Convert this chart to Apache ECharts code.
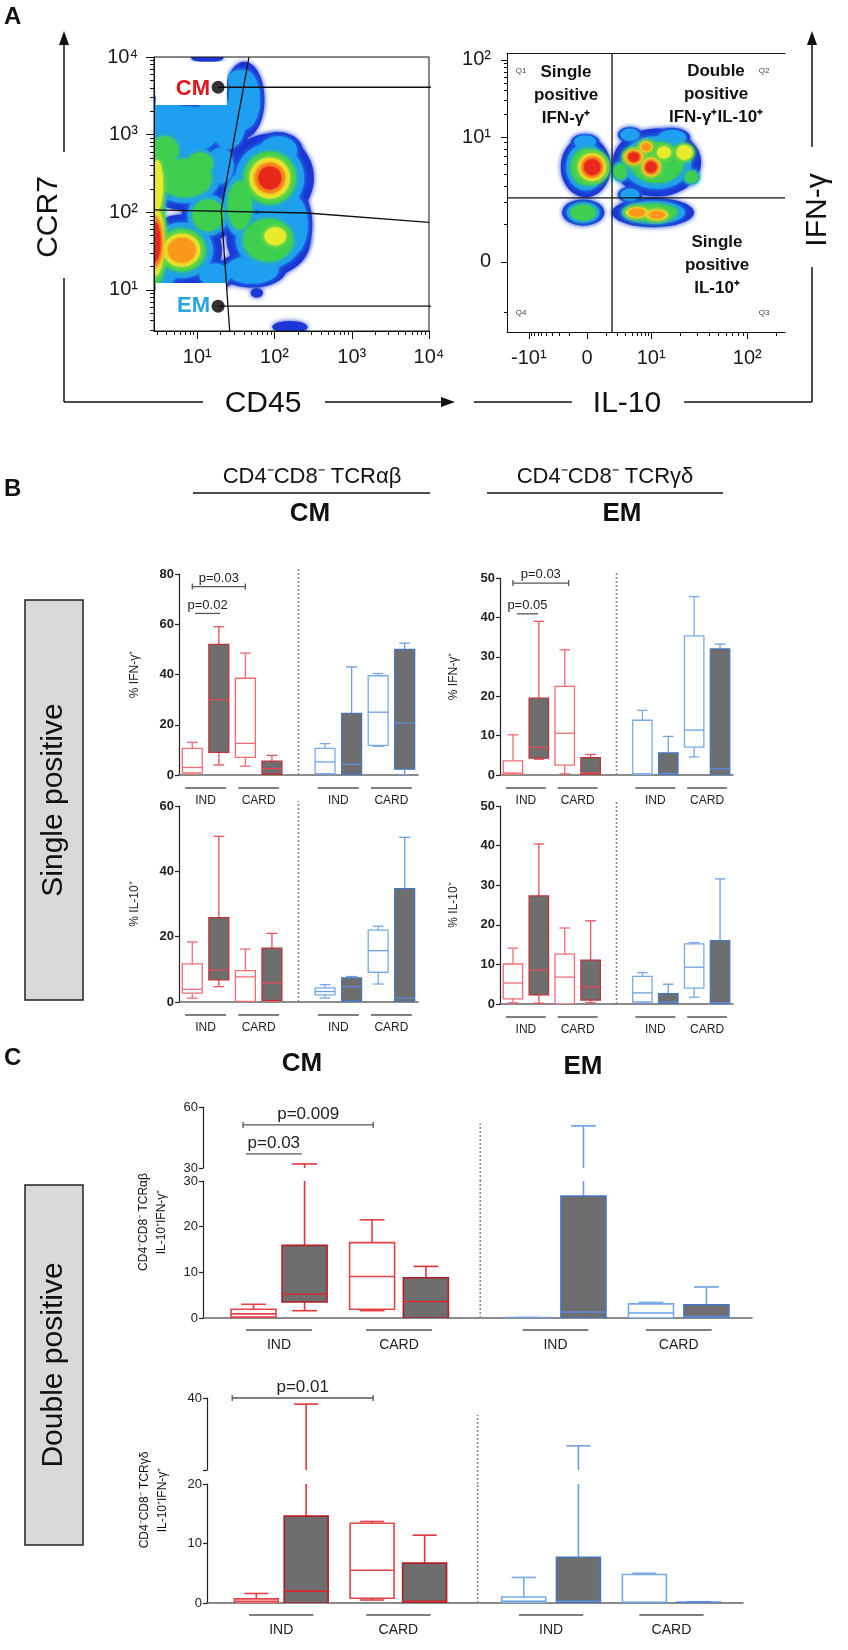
<!DOCTYPE html>
<html>
<head>
<meta charset="utf-8">
<script src="https://cdn.jsdelivr.net/npm/echarts@6/dist/echarts.min.js"></script>
<style>
  html, body { margin: 0; padding: 0; background: #fff; }
  #chart { width: 848px; height: 1650px; }
</style>
</head>
<body>
<div id="chart"></div>
<script>
const FONT = '"Liberation Sans", Arial, Helvetica, sans-serif';

// ---------- Panel A: flow plots ----------
// left plot: both axes in log10 units; right plot: display units of the biexponential scale
const cd45Ticks = [1, 2, 3, 4];
const ccr7Ticks = [1, 2, 3, 4];
const decadeLabels = ['10¹', '10²', '10³', '10⁴'];
const il10TickPos = [-0.91, 0, 1, 2.5];
const il10TickText = ['-10¹', '0', '10¹', '10²'];
const ifngTickPos = [0, 1.62, 2.62];
const ifngTickText = ['0', '10¹', '10²'];
const cd45Range = [0.44, 4.0];
const ccr7Range = [0.47, 4.0];
const il10Range = [-1.25, 3.09];
const ifngRange = [-0.91, 2.71];

// density blobs: [x, y, rx, ry, firstLevel, lastLevel]
const leftBlobs = [
  [0.84, 3.06, 0.58, 0.39, 0, 1],
  [0.58, 3.25, 0.32, 0.26, 0, 1],
  [1.23, 3.25, 0.32, 0.26, 0, 1],
  [0.84, 2.44, 0.58, 0.41, 0, 2],
  [1.40, 3.12, 0.28, 0.39, 0, 1],
  [0.80, 1.51, 0.52, 0.46, 0, 4],
  [0.52, 1.19, 0.26, 0.19, 0, 1],
  [1.23, 1.19, 0.26, 0.19, 0, 1],
  [0.45, 1.62, 0.16, 0.57, 2, 5],
  [0.48, 2.35, 0.13, 0.54, 1, 3],
  [1.94, 2.44, 0.57, 0.57, 0, 5],
  [1.92, 1.64, 0.54, 0.46, 0, 2],
  [2.01, 1.69, 0.18, 0.15, 2, 3],
  [1.61, 3.45, 0.26, 0.49, 0, 1],
  [2.05, 2.80, 0.31, 0.23, 0, 1],
  [2.23, 1.84, 0.26, 0.49, 0, 1],
  [1.55, 2.09, 0.26, 0.52, 0, 2],
  [1.71, 1.26, 0.44, 0.23, 0, 1],
  [1.14, 1.96, 0.34, 0.34, 0, 2],
  [1.30, 2.60, 0.22, 0.30, 0, 1],
  [0.58, 2.80, 0.18, 0.18, 2, 2],
  [1.04, 2.63, 0.21, 0.18, 1, 2],
  [1.53, 3.70, 0.13, 0.13, 1, 1],
  [1.77, 0.96, 0.08, 0.06, 0, 0],
  [2.20, 0.52, 0.23, 0.08, 0, 0],
  [1.13, 3.99, 0.21, 0.06, 0, 0]
];
const rightBlobs = [
  [-0.02, 1.23, 0.39, 0.39, 0, 2],
  [0.08, 1.23, 0.28, 0.23, 2, 5],
  [-0.03, 1.56, 0.22, 0.10, 0, 1],
  [-0.06, 0.64, 0.33, 0.17, 0, 2],
  [1.09, 1.29, 0.69, 0.44, 0, 2],
  [0.67, 1.65, 0.19, 0.10, 0, 1],
  [1.33, 1.61, 0.28, 0.13, 0, 1],
  [0.73, 1.36, 0.19, 0.13, 2, 5],
  [1.00, 1.23, 0.19, 0.16, 2, 5],
  [0.92, 1.49, 0.13, 0.09, 2, 4],
  [1.20, 1.42, 0.14, 0.10, 2, 3],
  [1.52, 1.42, 0.16, 0.12, 2, 3],
  [1.63, 1.10, 0.13, 0.10, 1, 2],
  [0.52, 1.17, 0.13, 0.13, 1, 2],
  [1.03, 0.64, 0.64, 0.19, 0, 2],
  [0.78, 0.64, 0.22, 0.09, 2, 4],
  [1.09, 0.61, 0.22, 0.09, 2, 4],
  [0.67, 0.87, 0.19, 0.10, 0, 1]
];
const gateVertical = [[1.67, 4.0], [1.31, 2.03], [1.42, 0.47]];
const gateHorizontal = [[0.44, 2.03], [2.42, 1.99], [4.0, 1.87]];
const gateDots = [[1.27, 3.61], [1.27, 0.79]];
const cmLink = [[1.27, 3.61], [5.01, 3.61]];
const emLink = [[1.27, 0.79], [5.01, 0.79]];
const labelMasks = [[0.45, 3.94, 1.37, 3.37], [0.45, 1.09, 1.37, 0.48]];
const quadrant = [0.39, 0.83];

// ---------- Panel B: [min, q1, median, q3, max] ----------
// order: IND open, IND filled, CARD open, CARD filled (red), then the same in blue
const boxPosB = [1, 2, 3, 4, 6, 7, 8, 9];
const groupPosB = [1.5, 3.5, 6.5, 8.5];
const groupLabels = ['IND', 'CARD', 'IND', 'CARD'];
const cmIfn = [
  [0, 0.8, 3, 10.6, 13], [4, 9, 30, 52, 59], [3.5, 7, 12.6, 38.5, 48.5], [0, 0.3, 2.5, 5.5, 7.8],
  [0, 0.5, 5.2, 10.6, 12.5], [0, 0.3, 4.2, 24.5, 43], [11.4, 11.8, 25, 39.5, 40.4], [0, 2.3, 20.7, 50, 52.5]
];
const emIfn = [
  [0, 0.2, 0.5, 3.6, 10.2], [4, 4.3, 7, 19.5, 39], [0.3, 2.5, 10.6, 22.5, 31.8], [0, 0.2, 0.5, 4.4, 5.2],
  [0, 0, 0.3, 13.9, 16.4], [0, 0, 0.4, 5.6, 9.8], [4.6, 7.1, 11.4, 35.3, 45.3], [0, 0, 1.6, 32, 33.2]
];
const cmIl10 = [
  [1.2, 2.7, 3.9, 11.7, 18.4], [4.7, 6.8, 9.8, 25.8, 50.7], [0, 0.2, 7.7, 9.6, 16.2], [0, 0.5, 5.8, 16.5, 21],
  [1.2, 2.2, 3.2, 4.3, 5.3], [0, 0.3, 4.7, 7.4, 7.8], [5.5, 9.1, 15.7, 22, 23.2], [0, 0, 1.2, 34.7, 50.4]
];
const emIl10 = [
  [0.3, 1.3, 5.3, 10.1, 14.1], [0.2, 2.3, 8.6, 27.3, 40.4], [0, 0, 6.8, 12.6, 19.2], [0.3, 1, 4.3, 11.1, 21],
  [0.3, 0.5, 2.8, 7, 7.9], [0, 0, 0.5, 2.6, 5], [1.7, 4, 9.3, 15.2, 15.5], [0, 0, 0.3, 16, 31.6]
];
// p-value brackets: [fromX, toX, y, endTicks]
const pCmIfn = [[1, 3, 75, 1], [1.1, 2.05, 64.3, 0]];
const pCmIfnText = ['p=0.03', 'p=0.02'];
const pEmIfn = [[1, 3.15, 48.7, 1], [1.15, 1.97, 40.9, 0]];
const pEmIfnText = ['p=0.03', 'p=0.05'];

// ---------- Panel C ----------
const boxPosC = [0.92, 1.85, 3.08, 4.06, 5.91, 6.93, 8.16, 9.17];
const groupPosC = [1.385, 3.57, 6.42, 8.665];
const dpAb = [
  [0, 0.2, 0.9, 1.9, 3.0], [1.6, 3.5, 5.2, 15.9, 32], [1.6, 1.9, 9.1, 16.5, 21.5], [0, 0, 3.6, 8.8, 11.3],
  [0, 0, 0, 0.1, 0.1], [0, 0, 1.3, 26.7, 50.7], [0, 0, 1.1, 3.1, 3.4], [0, 0, 0.3, 2.9, 6.8]
];
const dpGd = [
  [0, 0, 0.3, 0.7, 1.6], [0, 0, 2, 14.6, 38.3], [0.5, 0.8, 5.5, 13.4, 13.7], [0, 0, 0.3, 6.7, 11.4],
  [0, 0, 0.3, 1.0, 4.3], [0, 0, 0.3, 7.7, 26.7], [0, 0, 0.1, 4.8, 5.0], [0, 0, 0, 0.1, 0.2]
];
const pDpAb = [[0.73, 3.1, 51.2, 1], [0.78, 1.8, 36.9, 0]];
const pDpAbText = ['p=0.009', 'p=0.03'];
const pDpGd = [[0.47, 3.1, 40, 1]];
const pDpGdText = ['p=0.01'];

// ---------- styles ----------
const levelColors = ['#1b37d5', '#1f9ff0', '#3fcf50', '#e8ea2c', '#fa981c', '#e8281a'];
const levelScale = [1, 0.78, 0.6, 0.46, 0.35, 0.26];
const GRAY = '#6e6e6e';
const redOpenB = { fill: '#fff', border: '#ef6d75', whisker: '#ef6d75', median: '#ef6d75' };
const redFillB = { fill: GRAY, border: '#c2303a', whisker: '#e4555e', median: '#e34b55' };
const blueOpenB = { fill: '#fff', border: '#78aaea', whisker: '#78aaea', median: '#6b9fe6' };
const blueFillB = { fill: GRAY, border: '#4577c2', whisker: '#6c9fe4', median: '#5b8ddc' };
const redOpenC = { fill: '#fff', border: '#e4434c', whisker: '#e4434c', median: '#e4434c' };
const redFillC = { fill: GRAY, border: '#b01e28', whisker: '#e0343d', median: '#d92a34' };
const palB = [redOpenB, redFillB, redOpenB, redFillB, blueOpenB, blueFillB, blueOpenB, blueFillB];
const palC = [redOpenC, redFillC, redOpenC, redFillC, blueOpenB, blueFillB, blueOpenB, blueFillB];

const grids = [], xAxes = [], yAxes = [], series = [];
function addGrid(g) { grids.push(Object.assign({ outerBoundsMode: 'none', containLabel: false }, g)); return grids.length - 1; }
function addX(a) { xAxes.push(Object.assign({ type: 'value', splitLine: { show: false } }, a)); return xAxes.length - 1; }
function addY(a) { yAxes.push(Object.assign({ type: 'value', splitLine: { show: false } }, a)); return yAxes.length - 1; }

function nearestLabel(pos, text) {
  return function (v) {
    let best = 0;
    pos.forEach((p, i) => { if (Math.abs(p - v) < Math.abs(pos[best] - v)) best = i; });
    return text[best];
  };
}
function logMinor(lo, hi) {
  const out = [];
  for (let d = 0; d < 4; d++) for (let k = 2; k < 10; k++) {
    const v = d + Math.log10(k);
    if (v > lo && v < hi) out.push(v);
  }
  return out;
}

function blobSeries(blobs, xi, yi, level) {
  return {
    type: 'custom', xAxisIndex: xi, yAxisIndex: yi, clip: true, silent: true, z: 2,
    data: blobs.filter(b => b[4] <= level && level <= b[5]),
    renderItem: function (params, api) {
      const c = api.coord([api.value(0), api.value(1)]);
      const s = api.size([api.value(2), api.value(3)]);
      const f = levelScale[level - api.value(4)];
      return {
        type: 'ellipse', z2: level,
        shape: { cx: c[0], cy: c[1], rx: s[0] * f, ry: s[1] * f },
        style: { fill: levelColors[level], shadowBlur: 5, shadowColor: levelColors[level] }
      };
    }
  };
}

function boxSeries(xi, yi, rows, pos, boxW, palette, lw) {
  return {
    type: 'custom', xAxisIndex: xi, yAxisIndex: yi, clip: true, silent: true, z: 3,
    data: rows.map((r, i) => [pos[i]].concat(r)),
    renderItem: function (params, api) {
      const st = palette[params.dataIndex];
      const x = api.value(0);
      const y = [1, 2, 3, 4, 5].map(k => api.coord([x, api.value(k)])[1]);
      const cx = api.coord([x, api.value(1)])[0];
      const hw = api.size([boxW, 0])[0] / 2;
      const cw = hw * 0.55;
      const seg = (x1, y1, x2, y2, c) => ({ type: 'line', shape: { x1: x1, y1: y1, x2: x2, y2: y2 }, style: { stroke: c, lineWidth: lw } });
      return {
        type: 'group', children: [
          seg(cx, y[0], cx, y[1], st.whisker),
          seg(cx, y[3], cx, y[4], st.whisker),
          seg(cx - cw, y[4], cx + cw, y[4], st.whisker),
          seg(cx - cw, y[0], cx + cw, y[0], st.whisker),
          { type: 'rect', shape: { x: cx - hw, y: y[3], width: hw * 2, height: Math.max(y[1] - y[3], 0.5) }, style: { fill: st.fill, stroke: st.border, lineWidth: lw } },
          seg(cx - hw, y[2], cx + hw, y[2], st.median)
        ]
      };
    }
  };
}

function sepSeries(xi, yi, s, ext) {
  return {
    type: 'custom', xAxisIndex: xi, yAxisIndex: yi, silent: true, z: 2, data: [s],
    renderItem: function (params, api) {
      const a = api.coord([api.value(0), api.value(1)]);
      const b = api.coord([api.value(0), api.value(2)]);
      return { type: 'line', shape: { x1: a[0], y1: a[1] + ext, x2: b[0], y2: b[1] }, style: { stroke: '#8a8a8a', lineWidth: 1.6, lineDash: [2, 2] } };
    }
  };
}

function groupSeries(xi, yi, g) {
  return {
    type: 'custom', xAxisIndex: xi, yAxisIndex: yi, silent: true, z: 3,
    data: g.centers.map(c => [c, 0]),
    renderItem: function (params, api) {
      const p = api.coord([api.value(0), api.value(1)]);
      const hw = api.size([g.half, 0])[0];
      return {
        type: 'group', children: [
          { type: 'line', shape: { x1: p[0] - hw, y1: p[1] + g.barDy, x2: p[0] + hw, y2: p[1] + g.barDy }, style: { stroke: '#555', lineWidth: 1.5 } },
          { type: 'text', x: p[0], y: p[1] + g.textDy, style: { text: groupLabels[params.dataIndex], fontSize: g.fs, fontFamily: FONT, fill: '#222', align: 'center', verticalAlign: 'middle' } }
        ]
      };
    }
  };
}

function pSeries(xi, yi, p) {
  return {
    type: 'custom', xAxisIndex: xi, yAxisIndex: yi, silent: true, z: 3, data: p.rows,
    renderItem: function (params, api) {
      const a = api.coord([api.value(0), api.value(2)]);
      const b = api.coord([api.value(1), api.value(2)]);
      const kids = [{ type: 'line', shape: { x1: a[0], y1: a[1], x2: b[0], y2: a[1] }, style: { stroke: '#555', lineWidth: 1.3 } }];
      if (api.value(3)) {
        [a[0], b[0]].forEach(x => kids.push({ type: 'line', shape: { x1: x, y1: a[1] - 3, x2: x, y2: a[1] + 3 }, style: { stroke: '#555', lineWidth: 1.3 } }));
      }
      kids.push({ type: 'text', x: (a[0] + b[0]) / 2, y: a[1] - 2, style: { text: p.texts[params.dataIndex], fontSize: p.fs, fontFamily: FONT, fill: '#222', align: 'center', verticalAlign: 'bottom' } });
      return { type: 'group', children: kids };
    }
  };
}

function panel(o) {
  const g = addGrid(o.rect);
  const xi = addX({
    gridIndex: g, min: o.xMin, max: o.xMax,
    axisLine: { show: o.baseline !== false, onZero: false, lineStyle: { color: '#666', width: 1.5 } },
    axisTick: { show: false }, axisLabel: { show: false }
  });
  const yi = addY({
    gridIndex: g, min: o.yMin, max: o.yMax, interval: o.interval,
    axisLine: { show: true, onZero: false, lineStyle: { color: '#222', width: 1.2 } },
    axisTick: { show: true, length: 4, lineStyle: { color: '#222', width: 1.2 } },
    axisLabel: Object.assign({ fontSize: 13, color: '#222', margin: 5, fontFamily: FONT }, o.label || {}),
    name: o.name || '', nameLocation: 'middle', nameGap: o.nameGap || 30, nameRotate: 90, nameMoveOverlap: false,
    nameTextStyle: { fontSize: 12, color: '#222', fontFamily: FONT }
  });
  series.push(boxSeries(xi, yi, o.rows, o.pos, o.boxW, o.palette, o.lw));
  if (o.sep) series.push(sepSeries(xi, yi, o.sep, o.sepExt || 0));
  if (o.groups) series.push(groupSeries(xi, yi, o.groups));
  if (o.p) series.push(pSeries(xi, yi, o.p));
}

// ---------- Panel A grids ----------
const noLine = { show: false, onZero: false };
const gL = addGrid({ left: 154, top: 57, width: 275, height: 274, show: true, borderColor: '#111', borderWidth: 1, z: 6 });
const xL = addX({
  gridIndex: gL, min: cd45Range[0], max: cd45Range[1], position: 'bottom', z: 6,
  axisLine: { show: true, onZero: false, lineStyle: { color: '#111' } },
  axisTick: { show: true, length: 8, customValues: cd45Ticks, lineStyle: { color: '#111' } },
  axisLabel: { customValues: cd45Ticks, formatter: nearestLabel(cd45Ticks, decadeLabels), fontSize: 20, color: '#1a1a1a', margin: 16, fontFamily: FONT }
});
addX({
  gridIndex: gL, min: cd45Range[0], max: cd45Range[1], position: 'bottom', z: 6,
  axisLine: noLine, axisLabel: { show: false },
  axisTick: { show: true, length: 4, customValues: logMinor(cd45Range[0], cd45Range[1]), lineStyle: { color: '#111' } }
});
const yL = addY({
  gridIndex: gL, min: ccr7Range[0], max: ccr7Range[1], position: 'left', z: 6,
  axisLine: { show: true, onZero: false, lineStyle: { color: '#111' } },
  axisTick: { show: true, length: 8, customValues: ccr7Ticks, lineStyle: { color: '#111' } },
  axisLabel: { customValues: ccr7Ticks, formatter: nearestLabel(ccr7Ticks, decadeLabels), fontSize: 20, color: '#1a1a1a', margin: 16, fontFamily: FONT }
});
addY({
  gridIndex: gL, min: ccr7Range[0], max: ccr7Range[1], position: 'left', z: 6,
  axisLine: noLine, axisLabel: { show: false },
  axisTick: { show: true, length: 4, customValues: logMinor(ccr7Range[0], ccr7Range[1]), lineStyle: { color: '#111' } }
});

const gR = addGrid({ left: 507, top: 53, width: 278, height: 279, z: 6 });
const il10Minor = [];
const ifngMinor = [-0.66];
for (let k = 2; k < 10; k++) {
  const l = Math.log10(k);
  il10Minor.push(-0.91 * l, l, 1 + 1.5 * l);
  ifngMinor.push(1.62 * l, 1.62 + l);
}
il10Minor.push(2.95);
const xR = addX({
  gridIndex: gR, min: il10Range[0], max: il10Range[1], position: 'bottom', z: 6,
  axisLine: { show: true, onZero: false, lineStyle: { color: '#111' } },
  axisTick: { show: true, length: 7, customValues: il10TickPos, lineStyle: { color: '#111' } },
  axisLabel: { customValues: il10TickPos, formatter: nearestLabel(il10TickPos, il10TickText), fontSize: 20, color: '#1a1a1a', margin: 16, fontFamily: FONT }
});
addX({
  gridIndex: gR, min: il10Range[0], max: il10Range[1], position: 'bottom', z: 6,
  axisLine: noLine, axisLabel: { show: false },
  axisTick: { show: true, length: 4, customValues: il10Minor, lineStyle: { color: '#111' } }
});
addX({
  gridIndex: gR, min: il10Range[0], max: il10Range[1], position: 'top', z: 6,
  axisLine: { show: true, onZero: false, lineStyle: { color: '#111' } }, axisTick: { show: false }, axisLabel: { show: false }
});
const yR = addY({
  gridIndex: gR, min: ifngRange[0], max: ifngRange[1], position: 'left', z: 6,
  axisLine: { show: true, onZero: false, lineStyle: { color: '#111' } },
  axisTick: { show: true, length: 6, customValues: ifngTickPos, lineStyle: { color: '#111' } },
  axisLabel: { customValues: ifngTickPos, formatter: nearestLabel(ifngTickPos, ifngTickText), fontSize: 20, color: '#1a1a1a', margin: 16, fontFamily: FONT }
});
addY({
  gridIndex: gR, min: ifngRange[0], max: ifngRange[1], position: 'left', z: 6,
  axisLine: noLine, axisLabel: { show: false },
  axisTick: { show: true, length: 3, customValues: ifngMinor, lineStyle: { color: '#111' } }
});

for (let lv = 0; lv < levelColors.length; lv++) {
  series.push(blobSeries(leftBlobs, xL, yL, lv));
  series.push(blobSeries(rightBlobs, xR, yR, lv));
}
series.push({
  type: 'custom', xAxisIndex: xL, yAxisIndex: yL, clip: true, silent: true, z: 3, data: labelMasks,
  renderItem: function (params, api) {
    const a = api.coord([api.value(0), api.value(1)]);
    const b = api.coord([api.value(2), api.value(3)]);
    return { type: 'rect', shape: { x: a[0] + 1, y: a[1], width: b[0] - a[0], height: b[1] - a[1] - 1 }, style: { fill: '#fff' } };
  }
});
const gateLine = (xi, yi, data) => ({
  type: 'line', xAxisIndex: xi, yAxisIndex: yi, data: data, symbol: 'none', showSymbol: false, clip: false,
  silent: true, z: 4, lineStyle: { color: '#111', width: 1.3 }
});
series.push(gateLine(xL, yL, gateVertical), gateLine(xL, yL, gateHorizontal), gateLine(xL, yL, cmLink), gateLine(xL, yL, emLink));
series.push(gateLine(xR, yR, [[quadrant[0], ifngRange[0]], [quadrant[0], ifngRange[1]]]));
series.push(gateLine(xR, yR, [[il10Range[0], quadrant[1]], [il10Range[1], quadrant[1]]]));
series.push({ type: 'scatter', xAxisIndex: xL, yAxisIndex: yL, data: gateDots, symbolSize: 13, clip: false, silent: true, z: 5, itemStyle: { color: '#000' } });

// ---------- Panel B ----------
const groupsB = { centers: groupPosB, half: 0.77, barDy: 13, textDy: 26, fs: 12 };
const boldLabel = { fontWeight: 'bold' };
panel({ rect: { left: 179, top: 574, width: 239, height: 201 }, xMin: 0.5, xMax: 9.5, yMin: 0, yMax: 80, interval: 20,
  rows: cmIfn, pos: boxPosB, boxW: 0.75, palette: palB, lw: 1.3, sep: [5, 0, 82], groups: groupsB,
  p: { rows: pCmIfn, texts: pCmIfnText, fs: 13 }, name: '% IFN-γ⁺', nameGap: 38, label: boldLabel });
panel({ rect: { left: 500, top: 578, width: 233, height: 197 }, xMin: 0.5, xMax: 9.5, yMin: 0, yMax: 50, interval: 10,
  rows: emIfn, pos: boxPosB, boxW: 0.75, palette: palB, lw: 1.3, sep: [5, 0, 51.3], groups: groupsB,
  p: { rows: pEmIfn, texts: pEmIfnText, fs: 13 }, name: '% IFN-γ⁺', nameGap: 40, label: boldLabel });
panel({ rect: { left: 179, top: 806, width: 239, height: 196 }, xMin: 0.5, xMax: 9.5, yMin: 0, yMax: 60, interval: 20,
  rows: cmIl10, pos: boxPosB, boxW: 0.75, palette: palB, lw: 1.3, sep: [5, 0, 61.5], groups: groupsB,
  name: '% IL-10⁺', nameGap: 38, label: boldLabel });
panel({ rect: { left: 500, top: 806, width: 233, height: 198 }, xMin: 0.5, xMax: 9.5, yMin: 0, yMax: 50, interval: 10,
  rows: emIl10, pos: boxPosB, boxW: 0.75, palette: palB, lw: 1.3, sep: [5, 0, 51], groups: groupsB,
  name: '% IL-10⁺', nameGap: 40, label: boldLabel });

// ---------- Panel C (broken y axes: lower and upper segment share the data) ----------
const groupsC = { centers: groupPosC, half: 0.6, barDy: 12, textDy: 27, fs: 14 };
panel({ rect: { left: 203, top: 1181, width: 549, height: 137 }, xMin: 0, xMax: 10, yMin: 0, yMax: 30, interval: 10,
  rows: dpAb, pos: boxPosC, boxW: 0.82, palette: palC, lw: 1.6, sep: [5.05, 0, 30], groups: groupsC });
panel({ rect: { left: 203, top: 1107, width: 549, height: 61 }, xMin: 0, xMax: 10, yMin: 30, yMax: 60, interval: 30, baseline: false,
  rows: dpAb, pos: boxPosC, boxW: 0.82, palette: palC, lw: 1.6, sep: [5.05, 30, 52], sepExt: 13,
  p: { rows: pDpAb, texts: pDpAbText, fs: 17 } });
panel({ rect: { left: 207, top: 1484, width: 536, height: 119 }, xMin: 0, xMax: 10, yMin: 0, yMax: 20, interval: 10,
  rows: dpGd, pos: boxPosC, boxW: 0.82, palette: palC, lw: 1.6, sep: [5.05, 0, 20], groups: groupsC });
panel({ rect: { left: 207, top: 1398, width: 536, height: 72 }, xMin: 0, xMax: 10, yMin: 20, yMax: 40, interval: 20, baseline: false,
  label: { formatter: v => (v === 40 ? '40' : '') },
  rows: dpGd, pos: boxPosC, boxW: 0.82, palette: palC, lw: 1.6, sep: [5.05, 20, 35.3], sepExt: 14,
  p: { rows: pDpGd, texts: pDpGdText, fs: 17 } });

// ---------- text and frame graphics ----------
const UP = Math.PI / 2;
function txt(text, x, y, size, extra, rot) {
  return { type: 'text', x: x, y: y, z: 10, rotation: rot || 0, silent: true,
    style: Object.assign({ text: text, fontSize: size, fontFamily: FONT, fill: '#111', align: 'center', verticalAlign: 'middle' }, extra || {}) };
}
function seg(x1, y1, x2, y2, w) {
  return { type: 'line', z: 10, silent: true, shape: { x1: x1, y1: y1, x2: x2, y2: y2 }, style: { stroke: '#111', lineWidth: w || 1.5 } };
}
function tri(points) { return { type: 'polygon', z: 10, silent: true, shape: { points: points }, style: { fill: '#111' } }; }
const bold = { fontWeight: 'bold' };
const quadText = { fontWeight: 'bold', lineHeight: 23 };

const graphics = [
  txt('A', 4, 17, 24, { fontWeight: 'bold', align: 'left' }),
  txt('B', 4, 489, 24, { fontWeight: 'bold', align: 'left' }),
  txt('C', 4, 1058, 24, { fontWeight: 'bold', align: 'left' }),

  txt('CCR7', 49, 217, 30, {}, UP),
  txt('CD45', 263, 404, 30),
  txt('IL-10', 627, 404, 30),
  txt('IFN-γ', 818, 210, 30, {}, UP),
  seg(64, 402, 64, 278), seg(64, 152, 64, 44), tri([[64, 31], [59, 45], [69, 45]]),
  seg(64, 402, 203, 402), seg(325, 402, 442, 402), tri([[455, 402], [441, 397], [441, 407]]),
  seg(474, 402, 572, 402), seg(684, 402, 812, 402), seg(812, 402, 812, 267), seg(812, 147, 812, 44),
  tri([[812, 31], [807, 45], [817, 45]]),

  txt('CM', 210, 89, 22, { fontWeight: 'bold', fill: '#e3161d', align: 'right' }),
  txt('EM', 210, 306, 22, { fontWeight: 'bold', fill: '#27a6e2', align: 'right' }),

  txt('Single\npositive\nIFN-γ⁺', 566, 95, 17, quadText),
  txt('Double\npositive\nIFN-γ⁺IL-10⁺', 716, 94, 17, quadText),
  txt('Single\npositive\nIL-10⁺', 717, 265, 17, quadText),
  txt('Q1', 521, 71, 8, { fill: '#444' }),
  txt('Q2', 764, 71, 8, { fill: '#444' }),
  txt('Q4', 521, 313, 8, { fill: '#444' }),
  txt('Q3', 764, 313, 8, { fill: '#444' }),

  txt('CD4⁻CD8⁻ TCRαβ', 312, 477, 22),
  seg(193, 493, 430, 493),
  txt('CD4⁻CD8⁻ TCRγδ', 605, 477, 22),
  seg(487, 493, 723, 493),
  txt('CM', 310, 514, 26, bold),
  txt('EM', 622, 514, 26, bold),

  txt('CM', 302, 1064, 26, bold),
  txt('EM', 583, 1067, 26, bold),
  txt('CD4⁻CD8⁻ TCRαβ\nIL-10⁺IFN-γ⁺', 153, 1222, 12, { lineHeight: 18 }, UP),
  txt('CD4⁻CD8⁻ TCRγδ\nIL-10⁺IFN-γ⁺', 154, 1500, 12, { lineHeight: 18 }, UP),

  { type: 'rect', z: 9, silent: true, shape: { x: 25, y: 600, width: 58, height: 400 }, style: { fill: '#d9d9d9', stroke: '#222', lineWidth: 1.5 } },
  txt('Single positive', 54, 800, 30, {}, UP),
  { type: 'rect', z: 9, silent: true, shape: { x: 25, y: 1185, width: 58, height: 360 }, style: { fill: '#d9d9d9', stroke: '#222', lineWidth: 1.5 } },
  txt('Double positive', 54, 1365, 30, {}, UP)
];

const chart = echarts.init(document.getElementById('chart'), null, { renderer: 'canvas' });
chart.setOption({
  backgroundColor: '#fff',
  animation: false,
  textStyle: { fontFamily: FONT },
  grid: grids,
  xAxis: xAxes,
  yAxis: yAxes,
  series: series,
  graphic: { elements: graphics }
});
</script>
</body>
</html>
